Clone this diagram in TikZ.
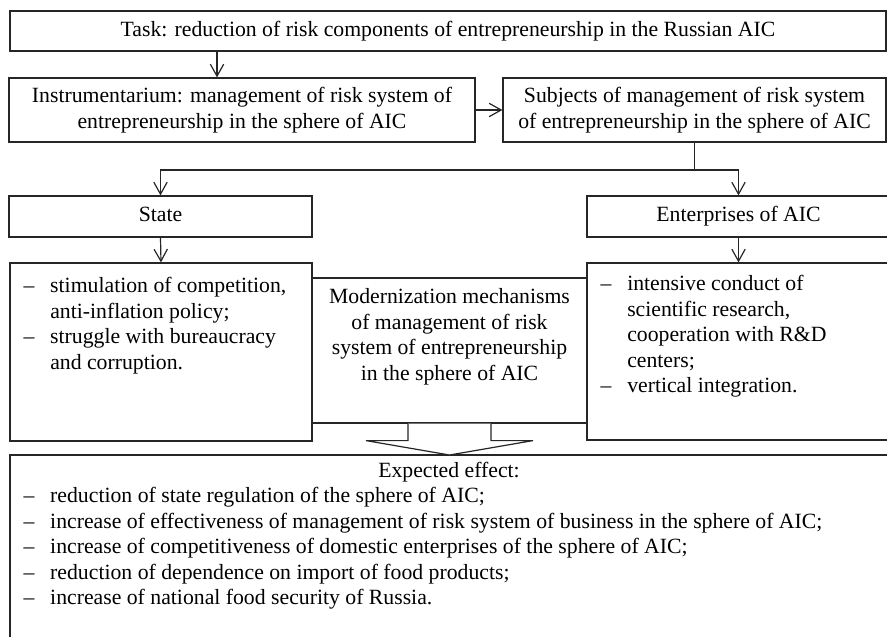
\documentclass[tikz,border=0pt]{standalone}
\usepackage{fontspec}
\setmainfont{Liberation Serif}
\usetikzlibrary{arrows.meta,calc}

% list helpers: hanging dash and continuation indent
\newcommand\dashitem{\makebox[20pt][l]{–}}
\newcommand\contline{\hspace*{20pt}}

\begin{document}
\begin{tikzpicture}[x=0.75pt,y=-0.75pt,
  line width=0.9pt,
  every node/.style={font=\fontsize{16.3pt}{19.2pt}\selectfont, inner sep=0pt, text=black},
  box/.style 2 args={draw=black!85, minimum width=#1, minimum height=#2},
  oneline/.style={text height=11.5pt, text depth=3.5pt},
  arr/.style={draw=black!85, -{Straight Barb[length=9pt,width=10pt]}},
  bigarrow/.style={draw=black!85, fill=white, line join=miter},
  listtext/.style={anchor=base west, align=left}]

\useasboundingbox (0,0) rectangle (887,636);
\clip (0,0) rectangle (887,636);

% top row
\node[box={657pt}{30pt}, oneline] (task) at (448,31)
  {Task: reduction of risk components of entrepreneurship in the Russian AIC};
\node[box={349.5pt}{48pt}, align=center] (instr) at (242,110)
  {Instrumentarium: management of risk system of\\entrepreneurship in the sphere of AIC};
\node[box={287.25pt}{48pt}, align=center] (subj) at (694.5,110)
  {Subjects of management of risk system\\of entrepreneurship in the sphere of AIC};

% subjects
\node[box={227.25pt}{30.75pt}, oneline] (state) at (160.5,216.5) {State};
\node[box={227.25pt}{30.75pt}, oneline] (ent) at (738.5,216.5) {Enterprises of AIC};

% measures
\node[box={226.5pt}{133.5pt}] (statebox) at (161,352) {};
\node[box={227.25pt}{132.75pt}] (entbox) at (738.5,351.5) {};
\node[box={206.25pt}{108.75pt}, fill=white] (mech) at (449.5,350.5) {};

% multi-line texts are placed by the baseline of their last line
\node[listtext] (statetext) at (23,369.3)
  {\dashitem stimulation of competition,\\
   \contline anti-inflation policy;\\
   \dashitem struggle with bureaucracy\\
   \contline and corruption.};
\node[listtext] (enttext) at (600,392.9)
  {\dashitem intensive conduct of\\
   \contline scientific research,\\
   \contline cooperation with R\&D\\
   \contline centers;\\
   \dashitem vertical integration.};
\node[anchor=base, align=center] (mechtext) at (449.5,380.3)
  {Modernization mechanisms\\of management of risk\\system of entrepreneurship\\in the sphere of AIC};

% expected effect (open at right and bottom)
\coordinate (effnw) at (10,455);
\draw[draw=black!85] (10,660) -- (effnw) -- (900,455);
\node[anchor=base] (efftitle) at (449,477.5) {Expected effect:};
\node[listtext] (efftext) at (23,604.9)
  {\dashitem reduction of state regulation of the sphere of AIC;\\
   \dashitem increase of effectiveness of management of risk system of business in the sphere of AIC;\\
   \dashitem increase of competitiveness of domestic enterprises of the sphere of AIC;\\
   \dashitem reduction of dependence on import of food products;\\
   \dashitem increase of national food security of Russia.};

% connectors
\coordinate (a1) at (217,0);
\coordinate (split) at (0,170);
\draw[arr] (task.south -| a1) -- (instr.north -| a1);
\draw[arr] (instr.east) -- (subj.west);
\draw[arr] (subj.south) -- (subj.south |- split) -| (state.north);
\draw[arr] (subj.south |- split) -| (ent.north);
\draw[arr] (state.south) -- (statebox.north);
\draw[arr] (ent.south) -- (entbox.north);

% block arrow from the mechanisms box to the expected effect
\draw[bigarrow] ($(mech.south)+(-41.5,0)$) -- ++(0,17) -- ++(-42,0)
  -- (mech.south |- effnw) -- ($(mech.south)+(83.5,17)$) -- ++(-42,0) -- ++(0,-17);

\end{tikzpicture}
\end{document}
